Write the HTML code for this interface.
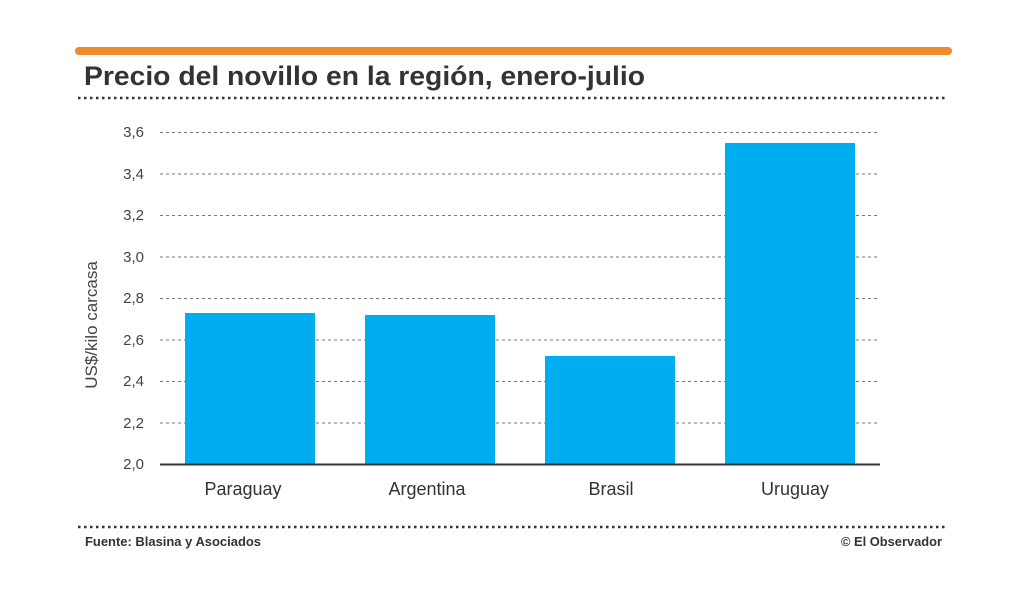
<!DOCTYPE html>
<html><head><meta charset="utf-8"><style>
body{margin:0;background:#fff;}
svg{display:block;font-family:"Liberation Sans","DejaVu Sans",sans-serif;}
</style></head><body>
<svg width="1024" height="597" viewBox="0 0 1024 597">
<rect width="1024" height="597" fill="#fff"/>
<line x1="79" y1="51" x2="948" y2="51" stroke="#ec8a2c" stroke-width="8" stroke-linecap="round"/>
<text x="84" y="85" font-size="27" font-weight="bold" fill="#333" textLength="561" lengthAdjust="spacingAndGlyphs">Precio del novillo en la región, enero-julio</text>
<line x1="78" y1="98" x2="948" y2="98" stroke="#333" stroke-width="2.5" stroke-dasharray="2.5 3.5"/>
<g stroke="#777" stroke-width="1" stroke-dasharray="3 3">
<line x1="160" y1="132.5" x2="880" y2="132.5"/>
<line x1="160" y1="174" x2="880" y2="174"/>
<line x1="160" y1="215.5" x2="880" y2="215.5"/>
<line x1="160" y1="257" x2="880" y2="257"/>
<line x1="160" y1="298.5" x2="880" y2="298.5"/>
<line x1="160" y1="340" x2="880" y2="340"/>
<line x1="160" y1="381.5" x2="880" y2="381.5"/>
<line x1="160" y1="423" x2="880" y2="423"/>
</g>
<g fill="#00aeef">
<rect x="185" y="313" width="130" height="151"/>
<rect x="365" y="315" width="130" height="149"/>
<rect x="545" y="356" width="130" height="108"/>
<rect x="725" y="143" width="130" height="321"/>
</g>
<line x1="160" y1="464.5" x2="880" y2="464.5" stroke="#333" stroke-width="2"/>
<g font-size="15" fill="#444" text-anchor="end">
<text x="144" y="137">3,6</text>
<text x="144" y="179">3,4</text>
<text x="144" y="220">3,2</text>
<text x="144" y="262">3,0</text>
<text x="144" y="303">2,8</text>
<text x="144" y="345">2,6</text>
<text x="144" y="386">2,4</text>
<text x="144" y="428">2,2</text>
<text x="144" y="469">2,0</text>
</g>
<text transform="translate(97,325) rotate(-90)" font-size="17" fill="#444" text-anchor="middle">US$/kilo carcasa</text>
<g font-size="18" fill="#333" text-anchor="middle">
<text x="243" y="495">Paraguay</text>
<text x="427" y="495">Argentina</text>
<text x="611" y="495">Brasil</text>
<text x="795" y="495">Uruguay</text>
</g>
<line x1="78" y1="527" x2="948" y2="527" stroke="#333" stroke-width="2.5" stroke-dasharray="2.5 3.5"/>
<text x="85" y="546" font-size="12.5" font-weight="bold" fill="#333" textLength="176" lengthAdjust="spacingAndGlyphs">Fuente: Blasina y Asociados</text>
<text x="841" y="546" font-size="12.5" font-weight="bold" fill="#333" textLength="101" lengthAdjust="spacingAndGlyphs">© El Observador</text>
</svg>
</body></html>
